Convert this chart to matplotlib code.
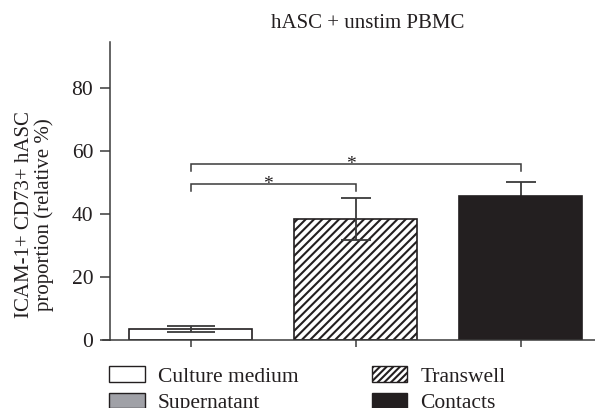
import matplotlib as mpl
mpl.use('Agg')
import matplotlib.pyplot as plt
from matplotlib.patches import Patch
from matplotlib.lines import Line2D

# Data.
groups = ['Culture medium', 'Transwell', 'Contacts']
means = [3.6, 38.4, 45.6]
errors = [1.0, 6.6, 4.7]
legend_labels = ['Culture medium', 'Supernatant', 'Transwell', 'Contacts']
# Significance brackets: (left group, right group, bracket height)
brackets = [(0, 1, 49.5), (0, 2, 55.9)]
title = 'hASC + unstim PBMC'
ylabel = 'ICAM-1+ CD73+ hASC\nproportion (relative %)'
yticks = [0, 20, 40, 60, 80]

TEXT = '#231f20'
DARK = '#231f20'
LINE = '#3a3a3a'
plt.rcParams['font.family'] = ['Liberation Serif', 'DejaVu Serif']
plt.rcParams['hatch.linewidth'] = 1.5
plt.rcParams['hatch.color'] = DARK

fig = plt.figure(figsize=(5.95, 4.08), dpi=100)
ax = fig.add_axes([110 / 595, 1 - 340 / 408, 1 - 110 / 595, (340 - 42) / 408])

fills = ['white', 'white', DARK]
hatches = [None, '////', None]
caps = [17, 11, 11]
bar_z = [2, 2, 4]
x = list(range(len(groups)))
for i in x:
    ax.bar(i, means[i], width=0.745, color=fills[i], edgecolor=DARK,
           linewidth=1.2, hatch=hatches[i], zorder=bar_z[i])
    ax.errorbar(i, means[i], yerr=errors[i], fmt='none', ecolor=LINE,
                elinewidth=1.3, capsize=caps[i], capthick=1.3, zorder=3)

# Significance brackets.
for a, b, h in brackets:
    ax.plot([a, a, b, b], [h - 2.2, h, h, h - 2.2], color=LINE, lw=1.1,
            solid_joinstyle='miter')
    ax.text((a + b) / 2 - 0.03, h - 1.7, '*', ha='center', va='baseline',
            fontsize=14, color=TEXT)

ax.set_xlim(-0.49, 2.45)
ax.set_ylim(0, 94.6)
ax.set_yticks(yticks)
ax.set_xticks(x)
ax.set_xticklabels([])

ax.spines['top'].set_visible(False)
ax.spines['right'].set_visible(False)
for s in ['left', 'bottom']:
    ax.spines[s].set_color(LINE)
    ax.spines[s].set_linewidth(1.1)
ax.spines['bottom'].set_zorder(5)
# x axis line runs a little past the y axis, as in the original.
ax.add_line(Line2D([-0.015, 0], [0, 0], transform=ax.transAxes, color=LINE,
                   lw=1.1, clip_on=False))
ax.tick_params(axis='y', direction='out', length=7, width=1.1, color=LINE,
               labelsize=15.5, labelcolor=TEXT, pad=5)
ax.tick_params(axis='x', direction='out', length=5, width=1.1, color=LINE)

ax.set_ylabel(ylabel, fontsize=15, color=TEXT, linespacing=1.0)
ax.yaxis.set_label_coords(-0.115, 0.42)
fig.text(368 / 595, 1 - 23 / 408, title, ha='center', va='center',
         fontsize=15, color=TEXT)

handles = [
    Patch(facecolor='white', edgecolor=DARK, linewidth=1.0),
    Patch(facecolor='#a0a1a7', edgecolor=DARK, linewidth=1.0),
    Patch(facecolor='white', edgecolor=DARK, linewidth=1.0, hatch='/////'),
    Patch(facecolor=DARK, edgecolor=DARK, linewidth=1.0),
]
fig.legend(handles, legend_labels, ncol=2, frameon=False, fontsize=15.5,
           loc='upper left', bbox_to_anchor=(103 / 595, 1 - 360 / 408),
           handlelength=1.65, handleheight=0.7, handletextpad=0.6,
           labelspacing=0.3, columnspacing=3.4, labelcolor=TEXT,
           borderaxespad=0, borderpad=0.3)

fig.savefig('out.png', dpi=100)
